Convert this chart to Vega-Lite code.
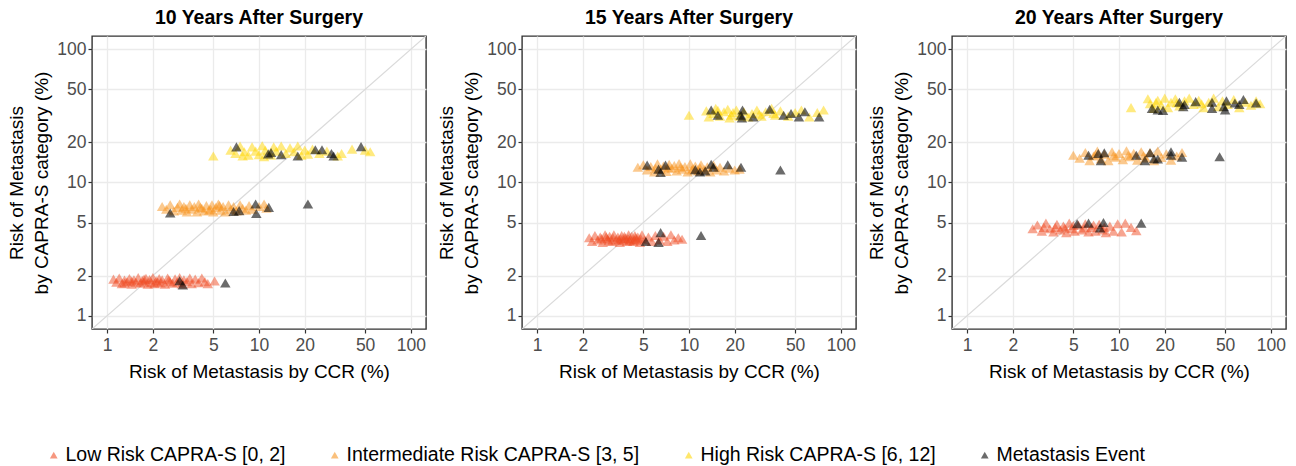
{
"$schema": "https://vega.github.io/schema/vega-lite/v6.json",
"background": "white",
"padding": {"left": 7, "top": 7, "right": 4, "bottom": 4},
"config": {
 "font": "Liberation Sans",
 "view": {"stroke": "#333333", "strokeWidth": 1.4},
 "axis": {"labelFontSize": 17.5, "labelColor": "#4D4D4D", "titleFontSize": 19, "titleColor": "black", "titleFontWeight": "normal", "tickColor": "#333333", "tickSize": 4, "tickWidth": 1.2, "domain": false, "gridColor": "#EBEBEB", "gridWidth": 1.3, "labelPadding": 2}
},
"datasets": {"d": [
{"p":10,"g":"D","x":0.5,"y":0.5},{"p":10,"g":"D","x":200,"y":200},
{"p":15,"g":"D","x":0.5,"y":0.5},{"p":15,"g":"D","x":200,"y":200},
{"p":20,"g":"D","x":0.5,"y":0.5},{"p":20,"g":"D","x":200,"y":200},
{"p":10,"g":"L","x":1.1,"y":1.88},{"p":10,"g":"L","x":1.15,"y":1.78},{"p":10,"g":"L","x":1.2,"y":1.92},{"p":10,"g":"L","x":1.25,"y":1.74},{"p":10,"g":"L","x":1.3,"y":1.85},{"p":10,"g":"L","x":1.35,"y":1.8},{"p":10,"g":"L","x":1.4,"y":1.9},{"p":10,"g":"L","x":1.45,"y":1.72},{"p":10,"g":"L","x":1.5,"y":1.86},{"p":10,"g":"L","x":1.55,"y":1.78},{"p":10,"g":"L","x":1.6,"y":1.93},{"p":10,"g":"L","x":1.65,"y":1.75},{"p":10,"g":"L","x":1.7,"y":1.84},{"p":10,"g":"L","x":1.75,"y":1.79},{"p":10,"g":"L","x":1.8,"y":1.91},{"p":10,"g":"L","x":1.85,"y":1.72},{"p":10,"g":"L","x":1.9,"y":1.87},{"p":10,"g":"L","x":1.95,"y":1.77},{"p":10,"g":"L","x":2.0,"y":1.93},{"p":10,"g":"L","x":2.05,"y":1.74},{"p":10,"g":"L","x":2.1,"y":1.83},{"p":10,"g":"L","x":2.2,"y":1.9},{"p":10,"g":"L","x":2.25,"y":1.76},{"p":10,"g":"L","x":2.3,"y":1.86},{"p":10,"g":"L","x":2.4,"y":1.72},{"p":10,"g":"L","x":2.5,"y":1.92},{"p":10,"g":"L","x":2.6,"y":1.8},{"p":10,"g":"L","x":2.7,"y":1.75},{"p":10,"g":"L","x":2.8,"y":1.89},{"p":10,"g":"L","x":2.9,"y":1.78},{"p":10,"g":"L","x":3.0,"y":1.93},{"p":10,"g":"L","x":3.1,"y":1.73},{"p":10,"g":"L","x":3.2,"y":1.86},{"p":10,"g":"L","x":3.35,"y":1.8},{"p":10,"g":"L","x":3.5,"y":1.92},{"p":10,"g":"L","x":3.6,"y":1.74},{"p":10,"g":"L","x":3.8,"y":1.88},{"p":10,"g":"L","x":4.0,"y":1.77},{"p":10,"g":"L","x":4.2,"y":1.92},{"p":10,"g":"L","x":4.4,"y":1.8},{"p":10,"g":"L","x":4.6,"y":1.74},{"p":10,"g":"L","x":5.1,"y":1.82},{"p":10,"g":"L","x":1.45,"y":1.82},{"p":10,"g":"L","x":1.75,"y":1.88},{"p":10,"g":"L","x":2.15,"y":1.79},{"p":10,"g":"L","x":2.55,"y":1.85},{"p":10,"g":"L","x":1.3,"y":1.76},
{"p":10,"g":"M","x":3.0,"y":1.83},{"p":10,"g":"M","x":3.15,"y":1.7},{"p":10,"g":"M","x":6.0,"y":1.76},
{"p":10,"g":"I","x":2.3,"y":6.6},{"p":10,"g":"I","x":2.45,"y":6.3},{"p":10,"g":"I","x":2.6,"y":6.8},{"p":10,"g":"I","x":2.75,"y":6.1},{"p":10,"g":"I","x":2.9,"y":6.5},{"p":10,"g":"I","x":3.0,"y":6.9},{"p":10,"g":"I","x":3.1,"y":6.2},{"p":10,"g":"I","x":3.2,"y":6.6},{"p":10,"g":"I","x":3.35,"y":6.0},{"p":10,"g":"I","x":3.5,"y":6.8},{"p":10,"g":"I","x":3.6,"y":6.3},{"p":10,"g":"I","x":3.75,"y":6.6},{"p":10,"g":"I","x":3.9,"y":6.0},{"p":10,"g":"I","x":4.0,"y":6.9},{"p":10,"g":"I","x":4.2,"y":6.4},{"p":10,"g":"I","x":4.35,"y":6.1},{"p":10,"g":"I","x":4.5,"y":6.7},{"p":10,"g":"I","x":4.7,"y":6.2},{"p":10,"g":"I","x":4.9,"y":6.8},{"p":10,"g":"I","x":5.0,"y":6.0},{"p":10,"g":"I","x":5.2,"y":6.5},{"p":10,"g":"I","x":5.4,"y":6.9},{"p":10,"g":"I","x":5.6,"y":6.2},{"p":10,"g":"I","x":5.8,"y":6.6},{"p":10,"g":"I","x":6.0,"y":6.0},{"p":10,"g":"I","x":6.3,"y":6.8},{"p":10,"g":"I","x":6.5,"y":6.3},{"p":10,"g":"I","x":6.8,"y":6.6},{"p":10,"g":"I","x":7.1,"y":6.1},{"p":10,"g":"I","x":7.5,"y":6.8},{"p":10,"g":"I","x":7.8,"y":6.4},{"p":10,"g":"I","x":8.2,"y":6.2},{"p":10,"g":"I","x":8.6,"y":6.7},{"p":10,"g":"I","x":9.0,"y":6.3},{"p":10,"g":"I","x":10.0,"y":6.6},{"p":10,"g":"I","x":10.8,"y":6.9},{"p":10,"g":"I","x":11.2,"y":6.4},{"p":10,"g":"I","x":3.3,"y":6.4},{"p":10,"g":"I","x":4.1,"y":6.5},{"p":10,"g":"I","x":4.8,"y":6.3},{"p":10,"g":"I","x":5.5,"y":6.7},
{"p":10,"g":"M","x":2.6,"y":5.9},{"p":10,"g":"M","x":6.8,"y":6.05},{"p":10,"g":"M","x":7.4,"y":6.15},{"p":10,"g":"M","x":9.5,"y":6.9},{"p":10,"g":"M","x":9.6,"y":5.85},{"p":10,"g":"M","x":11.6,"y":6.5},{"p":10,"g":"M","x":21.0,"y":6.9},
{"p":10,"g":"H","x":5.0,"y":15.8},{"p":10,"g":"H","x":6.5,"y":17.5},{"p":10,"g":"H","x":7.0,"y":16.5},{"p":10,"g":"H","x":7.5,"y":18.8},{"p":10,"g":"H","x":8.0,"y":17.0},{"p":10,"g":"H","x":8.5,"y":16.0},{"p":10,"g":"H","x":9.0,"y":18.5},{"p":10,"g":"H","x":9.5,"y":17.2},{"p":10,"g":"H","x":10.0,"y":16.2},{"p":10,"g":"H","x":10.5,"y":18.9},{"p":10,"g":"H","x":11.0,"y":17.5},{"p":10,"g":"H","x":12.0,"y":16.0},{"p":10,"g":"H","x":12.5,"y":18.5},{"p":10,"g":"H","x":13.0,"y":17.2},{"p":10,"g":"H","x":14.0,"y":18.8},{"p":10,"g":"H","x":15.0,"y":16.5},{"p":10,"g":"H","x":16.0,"y":18.2},{"p":10,"g":"H","x":17.0,"y":17.0},{"p":10,"g":"H","x":18.0,"y":18.8},{"p":10,"g":"H","x":19.0,"y":16.0},{"p":10,"g":"H","x":20.0,"y":17.5},{"p":10,"g":"H","x":21.0,"y":16.3},{"p":10,"g":"H","x":22.5,"y":17.8},{"p":10,"g":"H","x":25.0,"y":16.5},{"p":10,"g":"H","x":28.0,"y":17.2},{"p":10,"g":"H","x":33.0,"y":15.8},{"p":10,"g":"H","x":35.0,"y":16.5},{"p":10,"g":"H","x":41.0,"y":17.8},{"p":10,"g":"H","x":50.0,"y":17.5},{"p":10,"g":"H","x":54.0,"y":17.0},{"p":10,"g":"H","x":7.8,"y":15.8},{"p":10,"g":"H","x":10.8,"y":15.6},
{"p":10,"g":"M","x":7.1,"y":18.5},{"p":10,"g":"M","x":11.5,"y":16.4},{"p":10,"g":"M","x":12.0,"y":16.8},{"p":10,"g":"M","x":14.0,"y":16.2},{"p":10,"g":"M","x":18.0,"y":15.8},{"p":10,"g":"M","x":23.5,"y":17.6},{"p":10,"g":"M","x":26.0,"y":17.6},{"p":10,"g":"M","x":30.0,"y":16.5},{"p":10,"g":"M","x":31.0,"y":15.8},{"p":10,"g":"M","x":47.0,"y":18.6},
{"p":15,"g":"L","x":2.2,"y":3.85},{"p":15,"g":"L","x":2.3,"y":3.6},{"p":15,"g":"L","x":2.4,"y":4.0},{"p":15,"g":"L","x":2.5,"y":3.7},{"p":15,"g":"L","x":2.6,"y":3.9},{"p":15,"g":"L","x":2.7,"y":3.55},{"p":15,"g":"L","x":2.8,"y":4.05},{"p":15,"g":"L","x":2.9,"y":3.75},{"p":15,"g":"L","x":3.0,"y":3.95},{"p":15,"g":"L","x":3.1,"y":3.6},{"p":15,"g":"L","x":3.2,"y":4.05},{"p":15,"g":"L","x":3.3,"y":3.7},{"p":15,"g":"L","x":3.4,"y":3.9},{"p":15,"g":"L","x":3.5,"y":3.55},{"p":15,"g":"L","x":3.6,"y":4.0},{"p":15,"g":"L","x":3.7,"y":3.7},{"p":15,"g":"L","x":3.8,"y":3.85},{"p":15,"g":"L","x":3.9,"y":3.6},{"p":15,"g":"L","x":4.0,"y":4.05},{"p":15,"g":"L","x":4.1,"y":3.75},{"p":15,"g":"L","x":4.2,"y":3.95},{"p":15,"g":"L","x":4.3,"y":3.6},{"p":15,"g":"L","x":4.4,"y":4.0},{"p":15,"g":"L","x":4.5,"y":3.7},{"p":15,"g":"L","x":4.6,"y":3.9},{"p":15,"g":"L","x":4.75,"y":3.55},{"p":15,"g":"L","x":4.9,"y":4.05},{"p":15,"g":"L","x":5.1,"y":3.7},{"p":15,"g":"L","x":5.4,"y":3.9},{"p":15,"g":"L","x":5.7,"y":3.6},{"p":15,"g":"L","x":6.0,"y":4.0},{"p":15,"g":"L","x":6.4,"y":3.7},{"p":15,"g":"L","x":6.8,"y":3.95},{"p":15,"g":"L","x":7.2,"y":3.6},{"p":15,"g":"L","x":7.6,"y":4.05},{"p":15,"g":"L","x":8.0,"y":3.7},{"p":15,"g":"L","x":8.5,"y":3.85},{"p":15,"g":"L","x":9.0,"y":3.75},{"p":15,"g":"L","x":2.65,"y":3.8},{"p":15,"g":"L","x":3.15,"y":3.85},{"p":15,"g":"L","x":3.55,"y":3.8},{"p":15,"g":"L","x":4.05,"y":3.65},{"p":15,"g":"L","x":4.45,"y":3.85},{"p":15,"g":"L","x":2.95,"y":3.65},{"p":15,"g":"L","x":3.75,"y":3.95},{"p":15,"g":"L","x":3.45,"y":3.7},{"p":15,"g":"L","x":3.95,"y":3.8},{"p":15,"g":"L","x":4.35,"y":3.7},{"p":15,"g":"L","x":4.8,"y":3.8},{"p":15,"g":"L","x":2.85,"y":3.9},
{"p":15,"g":"M","x":5.2,"y":3.6},{"p":15,"g":"M","x":6.3,"y":3.55},{"p":15,"g":"M","x":6.5,"y":4.2},{"p":15,"g":"M","x":12.0,"y":4.0},
{"p":15,"g":"I","x":4.6,"y":13.0},{"p":15,"g":"I","x":5.0,"y":13.6},{"p":15,"g":"I","x":5.3,"y":12.4},{"p":15,"g":"I","x":5.6,"y":13.2},{"p":15,"g":"I","x":5.9,"y":12.0},{"p":15,"g":"I","x":6.2,"y":13.8},{"p":15,"g":"I","x":6.5,"y":12.6},{"p":15,"g":"I","x":6.8,"y":13.3},{"p":15,"g":"I","x":7.1,"y":12.1},{"p":15,"g":"I","x":7.4,"y":13.7},{"p":15,"g":"I","x":7.7,"y":12.8},{"p":15,"g":"I","x":8.0,"y":13.4},{"p":15,"g":"I","x":8.3,"y":12.2},{"p":15,"g":"I","x":8.6,"y":13.9},{"p":15,"g":"I","x":9.0,"y":12.6},{"p":15,"g":"I","x":9.4,"y":13.2},{"p":15,"g":"I","x":9.8,"y":12.0},{"p":15,"g":"I","x":10.2,"y":13.8},{"p":15,"g":"I","x":10.6,"y":12.7},{"p":15,"g":"I","x":11.0,"y":13.3},{"p":15,"g":"I","x":11.5,"y":12.2},{"p":15,"g":"I","x":12.0,"y":13.6},{"p":15,"g":"I","x":12.6,"y":12.5},{"p":15,"g":"I","x":13.2,"y":13.1},{"p":15,"g":"I","x":13.8,"y":12.0},{"p":15,"g":"I","x":14.5,"y":13.5},{"p":15,"g":"I","x":15.2,"y":12.4},{"p":15,"g":"I","x":16.0,"y":13.0},{"p":15,"g":"I","x":17.0,"y":12.2},{"p":15,"g":"I","x":18.5,"y":12.8},{"p":15,"g":"I","x":20.0,"y":12.4},{"p":15,"g":"I","x":21.5,"y":12.6},{"p":15,"g":"I","x":7.3,"y":12.9},{"p":15,"g":"I","x":8.8,"y":13.0},{"p":15,"g":"I","x":10.4,"y":12.4},{"p":15,"g":"I","x":6.0,"y":12.8},{"p":15,"g":"I","x":11.8,"y":12.9},
{"p":15,"g":"M","x":5.3,"y":13.5},{"p":15,"g":"M","x":6.3,"y":12.6},{"p":15,"g":"M","x":6.5,"y":11.9},{"p":15,"g":"M","x":7.0,"y":13.5},{"p":15,"g":"M","x":11.0,"y":12.5},{"p":15,"g":"M","x":11.8,"y":12.0},{"p":15,"g":"M","x":12.8,"y":12.2},{"p":15,"g":"M","x":14.0,"y":13.7},{"p":15,"g":"M","x":14.5,"y":13.0},{"p":15,"g":"M","x":18.0,"y":13.6},{"p":15,"g":"M","x":22.0,"y":13.0},{"p":15,"g":"M","x":40.0,"y":12.4},
{"p":15,"g":"H","x":10.0,"y":32.0},{"p":15,"g":"H","x":13.0,"y":34.5},{"p":15,"g":"H","x":13.5,"y":31.0},{"p":15,"g":"H","x":14.5,"y":33.0},{"p":15,"g":"H","x":15.0,"y":36.0},{"p":15,"g":"H","x":16.0,"y":31.5},{"p":15,"g":"H","x":17.0,"y":34.0},{"p":15,"g":"H","x":18.0,"y":35.5},{"p":15,"g":"H","x":18.5,"y":30.5},{"p":15,"g":"H","x":19.5,"y":33.5},{"p":15,"g":"H","x":20.5,"y":35.0},{"p":15,"g":"H","x":21.5,"y":31.5},{"p":15,"g":"H","x":23.0,"y":34.0},{"p":15,"g":"H","x":24.5,"y":31.0},{"p":15,"g":"H","x":26.0,"y":33.0},{"p":15,"g":"H","x":28.0,"y":35.0},{"p":15,"g":"H","x":30.0,"y":31.5},{"p":15,"g":"H","x":32.0,"y":34.0},{"p":15,"g":"H","x":35.0,"y":36.0},{"p":15,"g":"H","x":37.0,"y":32.0},{"p":15,"g":"H","x":40.0,"y":34.5},{"p":15,"g":"H","x":45.0,"y":31.5},{"p":15,"g":"H","x":50.0,"y":33.5},{"p":15,"g":"H","x":55.0,"y":35.0},{"p":15,"g":"H","x":62.0,"y":31.0},{"p":15,"g":"H","x":70.0,"y":33.5},{"p":15,"g":"H","x":77.0,"y":35.0},{"p":15,"g":"H","x":15.5,"y":34.8},{"p":15,"g":"H","x":19.0,"y":32.0},{"p":15,"g":"H","x":29.0,"y":32.5},{"p":15,"g":"H","x":36.0,"y":33.0},
{"p":15,"g":"M","x":14.0,"y":35.0},{"p":15,"g":"M","x":15.5,"y":32.0},{"p":15,"g":"M","x":22.0,"y":32.0},{"p":15,"g":"M","x":22.5,"y":35.0},{"p":15,"g":"M","x":22.3,"y":30.5},{"p":15,"g":"M","x":26.5,"y":31.0},{"p":15,"g":"M","x":34.0,"y":35.5},{"p":15,"g":"M","x":42.0,"y":32.0},{"p":15,"g":"M","x":47.0,"y":33.0},{"p":15,"g":"M","x":53.0,"y":31.0},{"p":15,"g":"M","x":58.0,"y":34.0},{"p":15,"g":"M","x":72.0,"y":31.0},
{"p":20,"g":"L","x":2.7,"y":4.5},{"p":20,"g":"L","x":2.9,"y":4.8},{"p":20,"g":"L","x":3.1,"y":4.3},{"p":20,"g":"L","x":3.3,"y":4.95},{"p":20,"g":"L","x":3.5,"y":4.5},{"p":20,"g":"L","x":3.7,"y":4.25},{"p":20,"g":"L","x":3.9,"y":4.85},{"p":20,"g":"L","x":4.1,"y":4.4},{"p":20,"g":"L","x":4.3,"y":4.7},{"p":20,"g":"L","x":4.5,"y":4.2},{"p":20,"g":"L","x":4.7,"y":4.95},{"p":20,"g":"L","x":4.9,"y":4.5},{"p":20,"g":"L","x":5.1,"y":4.3},{"p":20,"g":"L","x":5.4,"y":4.8},{"p":20,"g":"L","x":5.7,"y":4.4},{"p":20,"g":"L","x":6.0,"y":4.9},{"p":20,"g":"L","x":6.3,"y":4.25},{"p":20,"g":"L","x":6.6,"y":4.6},{"p":20,"g":"L","x":7.0,"y":4.3},{"p":20,"g":"L","x":7.4,"y":4.85},{"p":20,"g":"L","x":7.8,"y":4.4},{"p":20,"g":"L","x":8.2,"y":4.2},{"p":20,"g":"L","x":8.7,"y":4.7},{"p":20,"g":"L","x":9.2,"y":4.3},{"p":20,"g":"L","x":9.8,"y":4.9},{"p":20,"g":"L","x":10.4,"y":4.25},{"p":20,"g":"L","x":11.0,"y":4.95},{"p":20,"g":"L","x":12.0,"y":4.6},{"p":20,"g":"L","x":13.0,"y":4.35},{"p":20,"g":"L","x":3.2,"y":4.6},{"p":20,"g":"L","x":3.8,"y":4.6},{"p":20,"g":"L","x":4.4,"y":4.55},{"p":20,"g":"L","x":5.0,"y":4.75},{"p":20,"g":"L","x":5.9,"y":4.55},{"p":20,"g":"L","x":6.8,"y":4.8},{"p":20,"g":"L","x":8.0,"y":4.6},
{"p":20,"g":"M","x":5.3,"y":4.9},{"p":20,"g":"M","x":6.3,"y":4.95},{"p":20,"g":"M","x":7.5,"y":4.55},{"p":20,"g":"M","x":7.9,"y":5.0},{"p":20,"g":"M","x":14.0,"y":4.95},
{"p":20,"g":"I","x":5.0,"y":16.0},{"p":20,"g":"I","x":5.5,"y":15.2},{"p":20,"g":"I","x":6.0,"y":16.8},{"p":20,"g":"I","x":6.4,"y":14.6},{"p":20,"g":"I","x":6.8,"y":15.8},{"p":20,"g":"I","x":7.2,"y":17.2},{"p":20,"g":"I","x":7.6,"y":15.0},{"p":20,"g":"I","x":8.0,"y":16.3},{"p":20,"g":"I","x":8.5,"y":14.6},{"p":20,"g":"I","x":9.0,"y":17.0},{"p":20,"g":"I","x":9.5,"y":15.5},{"p":20,"g":"I","x":10.0,"y":16.5},{"p":20,"g":"I","x":10.6,"y":14.8},{"p":20,"g":"I","x":11.2,"y":17.3},{"p":20,"g":"I","x":11.8,"y":15.6},{"p":20,"g":"I","x":12.5,"y":16.6},{"p":20,"g":"I","x":13.2,"y":14.7},{"p":20,"g":"I","x":14.0,"y":17.0},{"p":20,"g":"I","x":15.0,"y":15.3},{"p":20,"g":"I","x":16.0,"y":16.8},{"p":20,"g":"I","x":17.0,"y":14.6},{"p":20,"g":"I","x":18.0,"y":17.2},{"p":20,"g":"I","x":19.0,"y":15.4},{"p":20,"g":"I","x":20.5,"y":16.4},{"p":20,"g":"I","x":22.0,"y":14.7},{"p":20,"g":"I","x":24.0,"y":15.8},{"p":20,"g":"I","x":26.0,"y":16.8},{"p":20,"g":"I","x":9.2,"y":15.9},{"p":20,"g":"I","x":11.5,"y":16.0},{"p":20,"g":"I","x":14.5,"y":15.9},{"p":20,"g":"I","x":7.0,"y":16.2},
{"p":20,"g":"M","x":6.3,"y":16.0},{"p":20,"g":"M","x":7.3,"y":16.5},{"p":20,"g":"M","x":7.6,"y":14.6},{"p":20,"g":"M","x":8.0,"y":16.7},{"p":20,"g":"M","x":13.0,"y":16.0},{"p":20,"g":"M","x":14.8,"y":14.6},{"p":20,"g":"M","x":16.0,"y":16.7},{"p":20,"g":"M","x":17.0,"y":15.1},{"p":20,"g":"M","x":18.0,"y":15.0},{"p":20,"g":"M","x":22.0,"y":17.0},{"p":20,"g":"M","x":22.0,"y":16.0},{"p":20,"g":"M","x":26.0,"y":15.5},{"p":20,"g":"M","x":46.0,"y":15.6},
{"p":20,"g":"H","x":12.0,"y":36.5},{"p":20,"g":"H","x":15.5,"y":42.5},{"p":20,"g":"H","x":16.0,"y":39.0},{"p":20,"g":"H","x":17.0,"y":36.0},{"p":20,"g":"H","x":18.0,"y":41.5},{"p":20,"g":"H","x":19.0,"y":38.0},{"p":20,"g":"H","x":20.0,"y":43.0},{"p":20,"g":"H","x":21.0,"y":36.5},{"p":20,"g":"H","x":22.0,"y":40.0},{"p":20,"g":"H","x":23.5,"y":42.5},{"p":20,"g":"H","x":25.0,"y":37.5},{"p":20,"g":"H","x":27.0,"y":41.0},{"p":20,"g":"H","x":29.0,"y":43.0},{"p":20,"g":"H","x":31.0,"y":38.5},{"p":20,"g":"H","x":33.5,"y":41.5},{"p":20,"g":"H","x":36.0,"y":36.5},{"p":20,"g":"H","x":39.0,"y":40.0},{"p":20,"g":"H","x":42.0,"y":43.0},{"p":20,"g":"H","x":45.0,"y":37.0},{"p":20,"g":"H","x":48.0,"y":41.0},{"p":20,"g":"H","x":52.0,"y":38.5},{"p":20,"g":"H","x":57.0,"y":42.0},{"p":20,"g":"H","x":62.0,"y":36.5},{"p":20,"g":"H","x":68.0,"y":40.0},{"p":20,"g":"H","x":74.0,"y":38.0},{"p":20,"g":"H","x":80.0,"y":41.0},{"p":20,"g":"H","x":85.0,"y":39.0},{"p":20,"g":"H","x":17.5,"y":39.8},{"p":20,"g":"H","x":24.0,"y":39.5},{"p":20,"g":"H","x":35.0,"y":39.0},
{"p":20,"g":"M","x":16.5,"y":36.0},{"p":20,"g":"M","x":18.0,"y":35.0},{"p":20,"g":"M","x":19.5,"y":34.8},{"p":20,"g":"M","x":25.0,"y":40.0},{"p":20,"g":"M","x":26.5,"y":37.0},{"p":20,"g":"M","x":27.0,"y":38.5},{"p":20,"g":"M","x":32.0,"y":40.5},{"p":20,"g":"M","x":41.0,"y":40.0},{"p":20,"g":"M","x":41.0,"y":36.0},{"p":20,"g":"M","x":49.0,"y":37.0},{"p":20,"g":"M","x":51.0,"y":41.0},{"p":20,"g":"M","x":50.0,"y":35.0},{"p":20,"g":"M","x":58.0,"y":39.5},{"p":20,"g":"M","x":62.0,"y":38.5},{"p":20,"g":"M","x":66.0,"y":42.0},{"p":20,"g":"M","x":80.0,"y":39.5}
]},
"data": {"name": "d"},
"facet": {"column": {"field": "p", "type": "ordinal", "title": null, "header": {"labelExpr": "datum.value + ' Years After Surgery'", "labelFontSize": 19.5, "labelFontWeight": "bold", "labelColor": "black", "labelPadding": 7}}},
"spacing": 10,
"resolve": {"axis": {"x": "independent", "y": "independent"}},
"spec": {
 "width": 334,
 "height": 293,
 "layer": [
  {
   "transform": [{"filter": "datum.g === 'D'"}],
   "mark": {"type": "line", "color": "#DADADA", "strokeWidth": 1.2, "clip": true},
   "encoding": {
    "x": {"field": "x", "type": "quantitative", "scale": {"type": "log", "domain": [0.794, 125.9], "nice": false}, "axis": {"values": [1, 2, 5, 10, 20, 50, 100], "format": "d", "title": "Risk of Metastasis by CCR (%)", "titlePadding": 9, "labelPadding": 3, "labelFontSize": 17.5, "titleFontSize": 19}},
    "y": {"field": "y", "type": "quantitative", "scale": {"type": "log", "domain": [0.794, 125.9], "nice": false}, "axis": {"values": [1, 2, 5, 10, 20, 50, 100], "format": "d", "title": ["Risk of Metastasis", "by CAPRA-S category (%)"], "titlePadding": 5, "titleLineHeight": 25, "labelFontSize": 17.5, "titleFontSize": 19}}
   }
  },
  {
   "transform": [{"filter": "datum.g === 'L' || datum.g === 'I' || datum.g === 'H'"}],
   "mark": {"type": "point", "shape": "triangle-up", "filled": true, "opacity": 0.5, "size": 110, "strokeWidth": 0},
   "encoding": {
    "x": {"field": "x", "type": "quantitative"},
    "y": {"field": "y", "type": "quantitative"},
    "color": {"field": "g", "type": "nominal", "scale": {"domain": ["L", "I", "H", "M"], "range": ["#F04C23", "#F7931E", "#FFD500", "#000000"]}, "legend": {"title": null, "orient": "none", "legendX": -48, "legendY": 409, "direction": "horizontal", "labelExpr": "datum.value === 'L' ? 'Low Risk CAPRA-S [0, 2]' : datum.value === 'I' ? 'Intermediate Risk CAPRA-S [3, 5]' : datum.value === 'H' ? 'High Risk CAPRA-S [6, 12]' : 'Metastasis Event'", "labelFontSize": 19.5, "labelLimit": 400, "labelColor": "black", "symbolType": "triangle-up", "symbolSize": 60, "symbolOpacity": 1, "symbolStrokeWidth": 0, "columnPadding": 39, "labelOffset": 2}}
   }
  },
  {
   "transform": [{"filter": "datum.g === 'M'"}],
   "mark": {"type": "point", "shape": "triangle-up", "filled": true, "opacity": 0.58, "size": 110, "strokeWidth": 0},
   "encoding": {
    "x": {"field": "x", "type": "quantitative"},
    "y": {"field": "y", "type": "quantitative"},
    "color": {"field": "g", "type": "nominal"}
   }
  }
 ]
}
}
